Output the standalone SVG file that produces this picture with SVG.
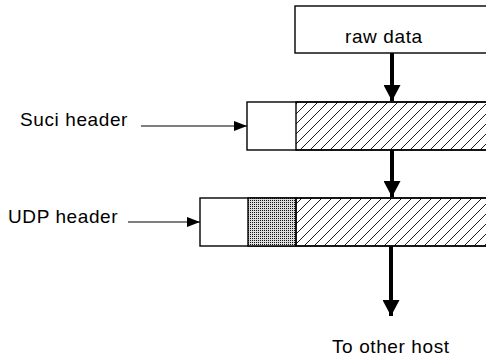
<svg xmlns="http://www.w3.org/2000/svg" width="486" height="360" viewBox="0 0 486 360">
<defs>
<style>
.box{fill:#fff;stroke:#000;stroke-width:1.4}
.lbl{font-family:"Liberation Sans",Arial,sans-serif;font-size:19px;letter-spacing:0.6px;fill:#000}
.thick{stroke:#000;stroke-width:4;fill:none}
.thin{stroke:#000;stroke-width:1.2;fill:none}
</style>
<pattern id="hatch" patternUnits="userSpaceOnUse" width="10" height="10">
<path d="M-2,12 L12,-2 M-2,2 L2,-2 M8,12 L12,8" stroke="#000" stroke-width="0.9"/>
</pattern>
<pattern id="dots" patternUnits="userSpaceOnUse" width="2" height="2">
<rect width="2" height="2" fill="#ddd"/>
<rect width="1" height="1" fill="#111"/>
</pattern>
<marker id="bighead" markerUnits="userSpaceOnUse" viewBox="0 0 16 17" markerWidth="16" markerHeight="17" refX="16" refY="8.5" orient="auto">
<path d="M0,0 L16,8.5 L0,17 Z" fill="#000"/>
</marker>
<marker id="smallhead" markerUnits="userSpaceOnUse" viewBox="0 0 13 10" markerWidth="13" markerHeight="10" refX="13" refY="5" orient="auto">
<path d="M0,0 L13,5 L0,10 Z" fill="#000"/>
</marker>
</defs>
<g id="raw-data">
<rect class="box" x="295" y="6" width="200" height="47"/>
<text class="lbl" x="345" y="43">raw data</text>
</g>
<g id="suci-packet">
<rect class="box" x="247" y="102" width="250" height="48"/>
<rect x="296" y="102" width="200" height="48" fill="url(#hatch)" stroke="#000" stroke-width="1.4"/>
</g>
<g id="udp-packet">
<rect class="box" x="200" y="198" width="300" height="48"/>
<rect x="248" y="198" width="48" height="48" fill="url(#dots)" stroke="#000" stroke-width="1.4"/>
<rect x="296" y="198" width="200" height="48" fill="url(#hatch)" stroke="#000" stroke-width="1.4"/>
</g>
<g id="suci-label">
<text class="lbl" x="20" y="126">Suci header</text>
</g>
<g id="udp-label">
<text class="lbl" x="8" y="223">UDP header</text>
</g>
<g id="dest-label">
<text class="lbl" x="332" y="353">To other host</text>
</g>
<g id="connectors">
<line class="thick" x1="392" y1="53" x2="392" y2="101" marker-end="url(#bighead)"/>
<line class="thick" x1="392" y1="150" x2="392" y2="197" marker-end="url(#bighead)"/>
<line class="thick" x1="391" y1="246" x2="391" y2="316" marker-end="url(#bighead)"/>
<line class="thin" x1="141" y1="126" x2="247" y2="126" marker-end="url(#smallhead)"/>
<line class="thin" x1="128" y1="222" x2="200" y2="222" marker-end="url(#smallhead)"/>
</g>
</svg>
